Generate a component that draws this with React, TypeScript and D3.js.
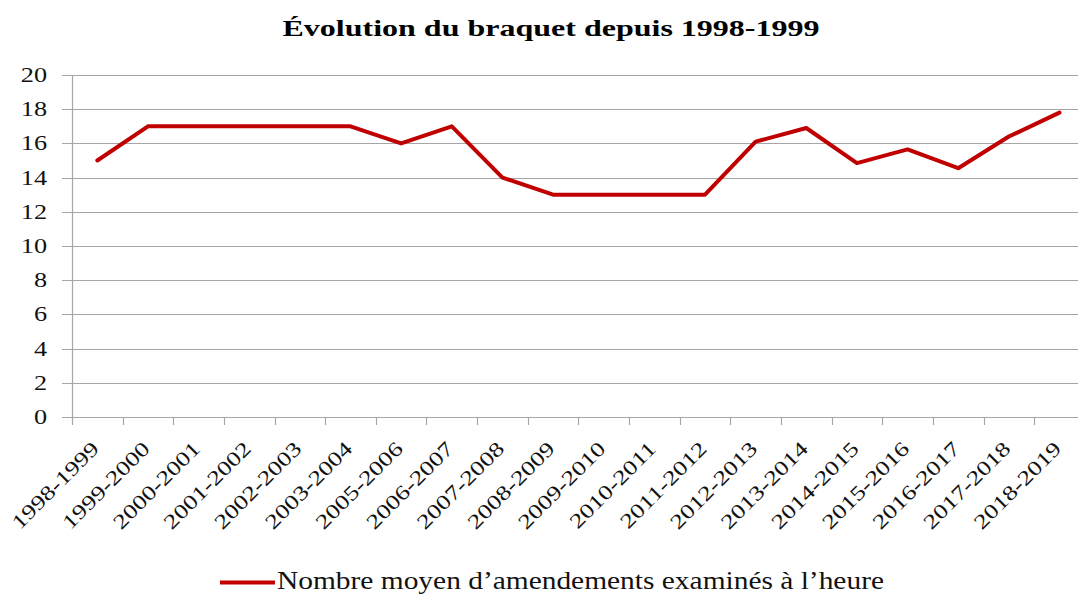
import React, { useEffect, useRef } from "react";
import * as d3 from "d3";

const categories = [
  "1998-1999", "1999-2000", "2000-2001", "2001-2002", "2002-2003", "2003-2004",
  "2005-2006", "2006-2007", "2007-2008", "2008-2009", "2009-2010", "2010-2011",
  "2011-2012", "2012-2013", "2013-2014", "2014-2015", "2015-2016", "2016-2017",
  "2017-2018", "2018-2019",
];
const values = [15, 17, 17, 17, 17, 17, 16, 17, 14, 13, 13, 13, 13, 16.1, 16.9, 14.85, 15.65, 14.55, 16.4, 17.8];
const yTicks = [0, 2, 4, 6, 8, 10, 12, 14, 16, 18, 20];
const title = "Évolution du braquet depuis 1998-1999";
const seriesName = "Nombre moyen d\u2019amendements examinés à l\u2019heure";

const W = 1078;
const H = 596;
const FONT = "'Liberation Serif', 'Times New Roman', serif";

export default function App() {
  const ref = useRef<SVGSVGElement | null>(null);

  useEffect(() => {
    document.body.style.margin = "0";
    const svg = d3.select(ref.current);
    svg.selectAll("*").remove();

    const left = 72;
    const right = left + categories.length * 50.64;
    const x = d3.scaleBand<string>().domain(categories).range([left, right]).paddingInner(0).paddingOuter(0);
    const y = d3.scaleLinear().domain([0, 20]).range([417, 75]);

    const stretch = (sel: d3.Selection<SVGTextElement, any, any, any>, factor: number) => {
      sel.each(function () {
        const len = (this as SVGTextElement).getComputedTextLength();
        d3.select(this).attr("textLength", len * factor).attr("lengthAdjust", "spacingAndGlyphs");
      });
    };

    // gridlines
    svg.append("g")
      .selectAll("line")
      .data(yTicks)
      .join("line")
      .attr("x1", 62)
      .attr("x2", W)
      .attr("y1", (d) => Math.round(y(d)) + 0.5)
      .attr("y2", (d) => Math.round(y(d)) + 0.5)
      .attr("stroke", "#a6a6a6")
      .attr("stroke-width", 1.2);

    // y axis line
    svg.append("line")
      .attr("x1", left + 0.5).attr("x2", left + 0.5)
      .attr("y1", y(20)).attr("y2", y(0))
      .attr("stroke", "#a6a6a6").attr("stroke-width", 1.2);

    // x ticks at category boundaries
    const bounds = d3.range(categories.length + 1).map((i) => left + i * x.bandwidth());
    svg.append("g")
      .selectAll("line")
      .data(bounds)
      .join("line")
      .attr("x1", (d) => Math.round(d) + 0.5)
      .attr("x2", (d) => Math.round(d) + 0.5)
      .attr("y1", y(0))
      .attr("y2", y(0) + 8)
      .attr("stroke", "#a6a6a6")
      .attr("stroke-width", 1.2);

    // y labels
    const yl = svg.append("g")
      .selectAll("text")
      .data(yTicks)
      .join("text")
      .attr("x", 47)
      .attr("y", (d) => y(d) + 7)
      .attr("text-anchor", "end")
      .attr("font-family", FONT)
      .attr("font-size", 21)
      .attr("fill", "#111")
      .text((d) => String(d));
    stretch(yl as any, 1.25);

    // x labels
    const xl = svg.append("g")
      .selectAll("text")
      .data(categories)
      .join("text")
      .attr("text-anchor", "end")
      .attr("transform", (d) => `translate(${(x(d) as number) + x.bandwidth() / 2 + 3},${450}) rotate(-45)`)
      .attr("font-family", FONT)
      .attr("font-size", 20.5)
      .attr("fill", "#111")
      .text((d) => d);
    stretch(xl as any, 1.28);

    // line
    const line = d3.line<number>()
      .x((_, i) => (x(categories[i]) as number) + x.bandwidth() / 2)
      .y((d) => y(d));
    svg.append("path")
      .datum(values)
      .attr("d", line)
      .attr("fill", "none")
      .attr("stroke", "#c00000")
      .attr("stroke-width", 4)
      .attr("stroke-linejoin", "round")
      .attr("stroke-linecap", "round");

    // title
    svg.append("text")
      .attr("x", 551)
      .attr("y", 36)
      .attr("text-anchor", "middle")
      .attr("font-family", FONT)
      .attr("font-weight", "bold")
      .attr("font-size", 23)
      .attr("fill", "#000")
      .attr("textLength", 537)
      .attr("lengthAdjust", "spacingAndGlyphs")
      .text(title);

    // legend
    svg.append("line")
      .attr("x1", 220).attr("x2", 275)
      .attr("y1", 582.5).attr("y2", 582.5)
      .attr("stroke", "#c00000").attr("stroke-width", 4);
    svg.append("text")
      .attr("x", 277)
      .attr("y", 589)
      .attr("font-family", FONT)
      .attr("font-size", 26)
      .attr("fill", "#111")
      .attr("textLength", 607)
      .attr("lengthAdjust", "spacingAndGlyphs")
      .text(seriesName);
  }, []);

  return <svg ref={ref} width={W} height={H} style={{ display: "block", background: "#fff" }} />;
}
